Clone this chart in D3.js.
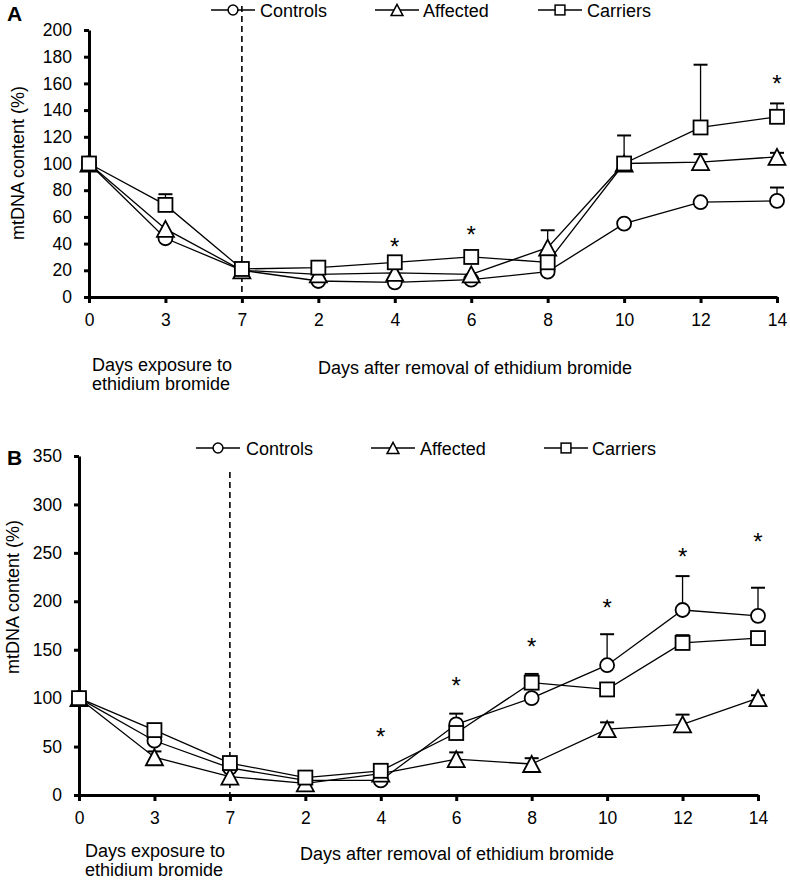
<!DOCTYPE html>
<html>
<head>
<meta charset="utf-8">
<script src="https://cdn.jsdelivr.net/npm/d3@7"></script>
<style>
  html, body { margin: 0; padding: 0; background: #fff; }
  svg text { font-family: "Liberation Sans", Arial, sans-serif; fill: #000; }
</style>
</head>
<body>
<svg id="chart" width="790" height="881"></svg>
<script>
// ---------- DATA ----------
const categories = ["0", "3", "7", "2", "4", "6", "8", "10", "12", "14"];
const seriesNames = ["Controls", "Affected", "Carriers"];
const yTicksA = [0, 20, 40, 60, 80, 100, 120, 140, 160, 180, 200];
const yTicksB = [0, 50, 100, 150, 200, 250, 300, 350];

// Panel A
const controlsA    = [100, 44, 20, 12, 11, 13, 19, 55, 71, 72];
const controlsAErr = [0, 0, 0, 0, 0, 0, 0, 0, 0, 10];
const affectedA    = [100, 51, 20, 17, 18, 17, 37, 100, 101, 105];
const affectedAErr = [0, 0, 0, 0, 0, 0, 13, 0, 6, 3];
const carriersA    = [100, 69, 21, 22, 26, 30, 26, 100, 127, 135];
const carriersAErr = [0, 8, 0, 0, 0, 0, 0, 21, 47, 10];
const starCatsA    = ["4", "6", "14"];
const starValsA    = [41, 50, 163];

// Panel B
const controlsB    = [100, 56, 28, 15, 15, 73, 100, 134, 191, 185];
const controlsBErr = [0, 0, 0, 0, 0, 11, 0, 32, 35, 29];
const affectedB    = [100, 39, 19, 12, 22, 37, 32, 68, 73, 100];
const affectedBErr = [0, 6, 0, 0, 0, 7, 6, 7, 10, 3];
const carriersB    = [100, 67, 33, 18, 25, 64, 116, 109, 157, 162];
const carriersBErr = [0, 0, 0, 0, 3, 0, 9, 0, 8, 0];
const starCatsB    = ["4", "6", "8", "10", "12", "14"];
const starValsB    = [65, 118, 158, 198, 251, 266];

const xLabelLeft  = ["Days exposure to", "ethidium bromide"];
const xLabelRight = "Days after removal of ethidium bromide";
const yLabel = "mtDNA content (%)";

// ---------- DRAW ----------
const svg = d3.select("#chart");

function symbolFor(name) {
  return name === "Controls" ? "circle" : name === "Affected" ? "triangle" : "square";
}

function drawMarker(g, type, cx, cy, s) {
  if (type === "circle") {
    g.append("circle").attr("cx", cx).attr("cy", cy).attr("r", 7 * s);
  } else if (type === "square") {
    const h = 7 * s;
    g.append("rect").attr("x", cx - h).attr("y", cy - h).attr("width", 2 * h).attr("height", 2 * h);
  } else {
    const w = 8.5 * s, h = 8 * s;
    g.append("path").attr("d", `M${cx},${cy - h}L${cx + w},${cy + h}L${cx - w},${cy + h}Z`);
  }
}

function panel(cfg) {
  const g = svg.append("g");
  const x = d3.scalePoint().domain(categories).range(cfg.xRange);
  const y = d3.scaleLinear().domain(cfg.yDomain).range(cfg.yRange);

  g.append("line")
    .attr("x1", x("7")).attr("x2", x("7"))
    .attr("y1", cfg.dashTop).attr("y2", cfg.yRange[0])
    .attr("stroke", "#000").attr("stroke-width", 1.6)
    .attr("stroke-dasharray", "6,4");

  const xAxis = d3.axisBottom(x).tickSize(6).tickPadding(11).tickSizeOuter(0);
  const yAxis = d3.axisLeft(y).tickValues(cfg.yTicks).tickSize(5).tickPadding(12).tickSizeOuter(0);

  const gx = g.append("g").attr("transform", `translate(0,${cfg.yRange[0]})`).call(xAxis);
  const gy = g.append("g").attr("transform", `translate(${cfg.xRange[0]},0)`).call(yAxis);
  [gx, gy].forEach(a => {
    a.select(".domain").attr("stroke", "#000").attr("stroke-width", 3);
    a.selectAll(".tick line").attr("stroke", "#000").attr("stroke-width", 3);
    a.selectAll(".tick text").attr("font-size", 17.5)
      .attr("font-family", "Liberation Sans, Arial, sans-serif").attr("fill", "#000");
  });

  const series = [
    { name: "Controls", vals: cfg.controls, err: cfg.controlsErr },
    { name: "Affected", vals: cfg.affected, err: cfg.affectedErr },
    { name: "Carriers", vals: cfg.carriers, err: cfg.carriersErr }
  ];

  const line = d3.line().x((d, i) => x(categories[i])).y(d => y(d));
  series.forEach(s => {
    g.append("path").attr("d", line(s.vals))
      .attr("fill", "none").attr("stroke", "#000").attr("stroke-width", 1.3);
  });

  series.forEach(s => {
    s.err.forEach((e, i) => {
      if (!e) return;
      const cx = x(categories[i]);
      g.append("line").attr("x1", cx).attr("x2", cx)
        .attr("y1", y(s.vals[i])).attr("y2", y(s.vals[i] + e))
        .attr("stroke", "#000").attr("stroke-width", 1.3);
      g.append("line").attr("x1", cx - 7).attr("x2", cx + 7)
        .attr("y1", y(s.vals[i] + e)).attr("y2", y(s.vals[i] + e))
        .attr("stroke", "#000").attr("stroke-width", 2);
    });
  });

  series.forEach(s => {
    const mg = g.append("g").attr("fill", "#fff").attr("stroke", "#000").attr("stroke-width", 1.8);
    s.vals.forEach((v, i) => drawMarker(mg, symbolFor(s.name), x(categories[i]), y(v), 1));
  });

  cfg.starCats.forEach((c, i) => {
    g.append("text").attr("x", x(c)).attr("y", y(cfg.starVals[i]) + 13)
      .attr("text-anchor", "middle").attr("font-size", 24).text("*");
  });

  const lg = g.append("g");
  cfg.legend.forEach((L, i) => {
    const cy = cfg.legendY;
    lg.append("line").attr("x1", L.x - 22).attr("x2", L.x + 22)
      .attr("y1", cy).attr("y2", cy).attr("stroke", "#000").attr("stroke-width", 1.3);
    const mg = lg.append("g").attr("fill", "#fff").attr("stroke", "#000").attr("stroke-width", 1.5);
    drawMarker(mg, symbolFor(seriesNames[i]), L.x, cy, 0.7);
    lg.append("text").attr("x", L.tx).attr("y", cy + 7).attr("font-size", 18).text(seriesNames[i]);
  });

  g.append("text").attr("x", 7).attr("y", cfg.letterY).attr("font-size", 21)
    .attr("font-weight", "bold").text(cfg.letter);

  g.append("text")
    .attr("transform", `translate(${cfg.yLabelX},${cfg.yLabelY}) rotate(-90)`)
    .attr("text-anchor", "middle").attr("font-size", 18).text(yLabel);

  xLabelLeft.forEach((t, i) => {
    g.append("text").attr("x", cfg.leftLabelX).attr("y", cfg.leftLabelY + i * 19)
      .attr("font-size", 18).text(t);
  });
  g.append("text").attr("x", cfg.rightLabelX).attr("y", cfg.rightLabelY)
    .attr("font-size", 18).text(xLabelRight);
}

panel({
  letter: "A", letterY: 21,
  xRange: [89, 777], yDomain: [0, 200], yRange: [297, 30], yTicks: yTicksA,
  dashTop: 6,
  controls: controlsA, controlsErr: controlsAErr,
  affected: affectedA, affectedErr: affectedAErr,
  carriers: carriersA, carriersErr: carriersAErr,
  starCats: starCatsA, starVals: starValsA,
  legendY: 10,
  legend: [{ x: 233, tx: 260 }, { x: 397, tx: 423 }, { x: 560, tx: 587 }],
  yLabelX: 24, yLabelY: 163,
  leftLabelX: 92, leftLabelY: 371,
  rightLabelX: 318, rightLabelY: 374
});

panel({
  letter: "B", letterY: 465,
  xRange: [79, 758], yDomain: [0, 350], yRange: [795, 456], yTicks: yTicksB,
  dashTop: 472,
  controls: controlsB, controlsErr: controlsBErr,
  affected: affectedB, affectedErr: affectedBErr,
  carriers: carriersB, carriersErr: carriersBErr,
  starCats: starCatsB, starVals: starValsB,
  legendY: 448,
  legend: [{ x: 218, tx: 246 }, { x: 393, tx: 420 }, { x: 566, tx: 592 }],
  yLabelX: 19, yLabelY: 597,
  leftLabelX: 85, leftLabelY: 857,
  rightLabelX: 300, rightLabelY: 860
});
</script>
</body>
</html>
